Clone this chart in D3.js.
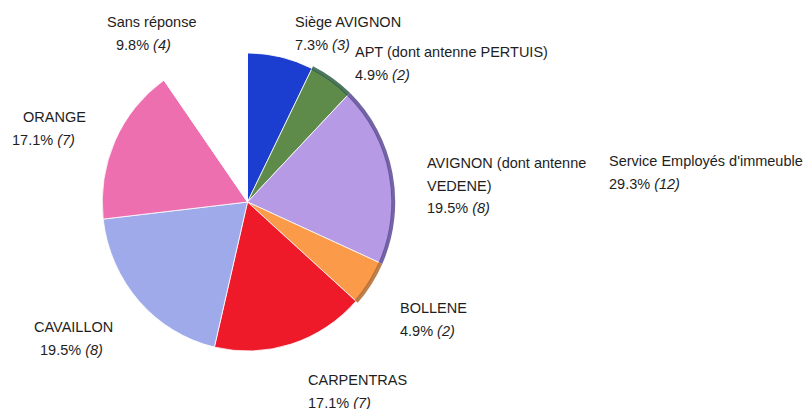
<!DOCTYPE html>
<html>
<head>
<meta charset="utf-8">
<script src="https://cdn.jsdelivr.net/npm/d3@7"></script>
<style>
  body { margin: 0; background: #fff; }
  svg { display: block; }
  text { font-family: "Liberation Sans", Arial, sans-serif; font-size: 14.5px; fill: #1e1e1e; }
</style>
</head>
<body>
<svg id="chart" width="805" height="409"></svg>
<script>
// Data
const categories = ["Siège AVIGNON", "APT (dont antenne PERTUIS)", "AVIGNON (dont antenne VEDENE)", "BOLLENE", "CARPENTRAS", "CAVAILLON", "ORANGE", "Sans réponse"];
const counts = [3, 2, 8, 2, 7, 8, 7, 4];
const percents = ["7.3%", "4.9%", "19.5%", "4.9%", "17.1%", "19.5%", "17.1%", "9.8%"];
const labelLines = [
  ["Siège AVIGNON"],
  ["APT (dont antenne PERTUIS)"],
  ["AVIGNON (dont antenne", "VEDENE)"],
  ["BOLLENE"],
  ["CARPENTRAS"],
  ["CAVAILLON"],
  ["ORANGE"],
  ["Sans réponse"]
];
const extraLabel = ["Service Employés d'immeuble"];
const extraPercent = "29.3%";
const extraCount = 12;

// Styles
const colors = ["#1c3ed0", "#5e8a4a", "#b79ae6", "#fb9a48", "#ee1a2a", "#9eaaea", "#ee6fb0", "#ffffff"];
const rimColors = [null, "#2f5f45", "#5b4a94", "#b06a30", null, null, null, null];
const labelPos = [
  [295, 27, 0], [355, 57, 0], [427, 168, 0], [400, 313, 0],
  [308, 385, 0], [34, 332, 6], [23, 122, -11], [107, 27, 9]
];
const extraPos = [609, 166];

const svg = d3.select("#chart");
const cx = 247.5, cy = 202, R = 149;
const g = svg.append("g").attr("transform", `translate(${cx},${cy}) scale(0.975,1)`);

const pie = d3.pie().sort(null).value(d => d);
const arcs = pie(counts);
const arc = d3.arc().innerRadius(0).outerRadius(R);
const rimArc = d3.arc().innerRadius(R - 1.5).outerRadius(R + 2.5);

g.selectAll("path.slice")
  .data(arcs)
  .join("path")
  .attr("class", "slice")
  .attr("d", arc)
  .attr("fill", (d, i) => colors[i])
  .attr("stroke", "#fff")
  .attr("stroke-width", 0.8);

g.selectAll("path.rim")
  .data(arcs.filter((d, i) => rimColors[i]))
  .join("path")
  .attr("class", "rim")
  .attr("d", rimArc)
  .attr("fill", d => rimColors[d.index])
  .attr("opacity", 0.85);

const lh = 22.5;
arcs.forEach((d, i) => {
  const [x, y, dx] = labelPos[i];
  const lines = labelLines[i];
  lines.forEach((ln, k) => {
    svg.append("text").attr("x", x).attr("y", y + k * lh).text(ln);
  });
  const t = svg.append("text").attr("x", x + dx).attr("y", y + lines.length * lh);
  t.append("tspan").text(percents[i] + " ");
  t.append("tspan").attr("font-style", "italic").text("(" + counts[i] + ")");
});

extraLabel.forEach((ln, k) => {
  svg.append("text").attr("x", extraPos[0]).attr("y", extraPos[1] + k * lh).text(ln);
});
const te = svg.append("text").attr("x", extraPos[0]).attr("y", extraPos[1] + extraLabel.length * lh);
te.append("tspan").text(extraPercent + " ");
te.append("tspan").attr("font-style", "italic").text("(" + extraCount + ")");
</script>
</body>
</html>
